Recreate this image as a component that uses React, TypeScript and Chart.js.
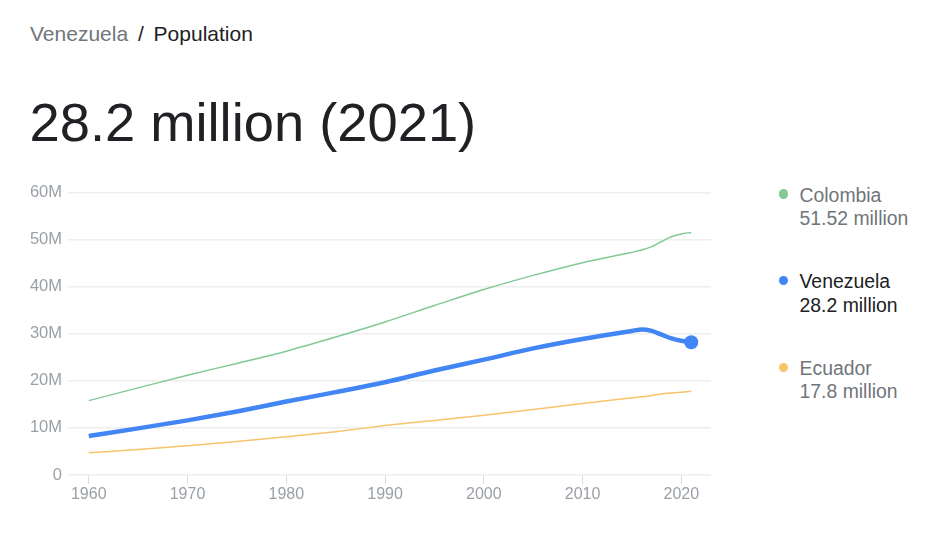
import React, { useEffect, useRef } from "react";
import { Chart, registerables } from "chart.js";

Chart.register(...registerables);

const years = [1960, 1965, 1970, 1975, 1980, 1985, 1990, 1995, 2000, 2005, 2010, 2015, 2016, 2017, 2018, 2019, 2020, 2021];
const venezuela = [8.3, 9.9, 11.6, 13.5, 15.6, 17.6, 19.7, 22.2, 24.5, 26.9, 28.9, 30.6, 30.9, 30.6, 29.8, 29.0, 28.5, 28.2];
const colombia = [15.8, 18.5, 21.2, 23.7, 26.3, 29.3, 32.5, 36.0, 39.4, 42.4, 45.1, 47.3, 47.8, 48.5, 49.6, 50.6, 51.2, 51.52];
const ecuador = [4.7, 5.4, 6.2, 7.1, 8.1, 9.2, 10.5, 11.6, 12.7, 13.9, 15.2, 16.4, 16.6, 16.9, 17.2, 17.4, 17.6, 17.8];
const xTicks = [1960, 1970, 1980, 1990, 2000, 2010, 2020];
const yTicks = [0, 10, 20, 30, 40, 50, 60];

const legendItems = [
  { name: "Colombia", value: "51.52 million", color: "#81c995", text: "#70757a" },
  { name: "Venezuela", value: "28.2 million", color: "#4285f4", text: "#202124" },
  { name: "Ecuador", value: "17.8 million", color: "#f7c46c", text: "#70757a" },
];

const FONT = '"Liberation Sans", Arial, sans-serif';

export default function App() {
  const canvasRef = useRef<HTMLCanvasElement | null>(null);

  useEffect(() => {
    document.body.style.margin = "0";
    const pts = (arr: number[]) => arr.map((v, i) => ({ x: years[i], y: v }));
    const last = years.length - 1;
    const chart = new Chart(canvasRef.current as HTMLCanvasElement, {
      type: "line",
      data: {
        datasets: [
          {
            label: "Venezuela",
            data: pts(venezuela),
            borderColor: "#4285f4",
            backgroundColor: "#4285f4",
            borderWidth: 4.5,
            cubicInterpolationMode: "monotone",
            pointRadius: (c: any) => (c.dataIndex === last ? 7 : 0),
            pointBorderWidth: 0,
            pointBackgroundColor: "#4285f4",
          },
          {
            label: "Colombia",
            data: pts(colombia),
            borderColor: "#81c995",
            borderWidth: 1.5,
            cubicInterpolationMode: "monotone",
            pointRadius: 0,
          },
          {
            label: "Ecuador",
            data: pts(ecuador),
            borderColor: "#f7c46c",
            borderWidth: 1.5,
            cubicInterpolationMode: "monotone",
            pointRadius: 0,
          },
        ],
      },
      options: {
        animation: false,
        responsive: false,
        devicePixelRatio: 1,
        layout: { padding: { top: 22.5, right: 19, left: 0, bottom: 0 } },
        plugins: { legend: { display: false }, tooltip: { enabled: false } },
        scales: {
          x: {
            type: "linear",
            min: 1957.9,
            max: 2023,
            afterBuildTicks: (axis: any) => {
              axis.ticks = xTicks.map((v) => ({ value: v }));
            },
            afterFit: (axis: any) => {
              axis.height = 40;
            },
            border: { display: false },
            grid: {
              drawOnChartArea: false,
              drawTicks: true,
              tickLength: 9,
              color: "#dadce0",
              lineWidth: 1,
            },
            ticks: {
              padding: 1,
              color: "#9aa0a6",
              font: { family: FONT, size: 16 },
              maxRotation: 0,
              autoSkip: false,
              callback: (v: any) => String(v),
            },
          },
          y: {
            min: 0,
            max: 60,
            afterBuildTicks: (axis: any) => {
              axis.ticks = yTicks.map((v) => ({ value: v }));
            },
            afterFit: (axis: any) => {
              axis.width = 68;
            },
            border: { display: false },
            grid: { drawTicks: false, color: "#eeeeee", lineWidth: 1.5 },
            ticks: {
              padding: 6,
              color: "#9aa0a6",
              font: { family: FONT, size: 16.5 },
              callback: (v: any) => (v === 0 ? "0" : v + "M"),
            },
          },
        },
      },
    } as any);
    return () => chart.destroy();
  }, []);

  return (
    <div style={{ position: "absolute", left: 0, top: 0, width: 937, height: 558, background: "#fff", fontFamily: FONT }}>
      <div style={{ position: "absolute", left: 30, top: 23, fontSize: 21, lineHeight: 1, whiteSpace: "nowrap" }}>
        <span style={{ color: "#70757a" }}>Venezuela</span>
        <span style={{ color: "#202124", margin: "0 4px" }}> / </span>
        <span style={{ color: "#202124" }}>Population</span>
      </div>
      <div style={{ position: "absolute", left: 29.5, top: 96, fontSize: 54.3, lineHeight: 1, color: "#202124", whiteSpace: "nowrap" }}>
        28.2 million (2021)
      </div>
      <canvas ref={canvasRef} width={730} height={345} style={{ position: "absolute", left: 0, top: 170, width: 730, height: 345 }} />
      {legendItems.map((it, i) => (
        <div key={it.name} style={{ position: "absolute", left: 778.5, top: 184 + i * 86.7, whiteSpace: "nowrap" }}>
          <div style={{ position: "absolute", left: 0, top: 5.3, width: 9.4, height: 9.4, borderRadius: "50%", background: it.color }} />
          <div style={{ position: "absolute", left: 21, top: -0.3, fontSize: 19.4, lineHeight: "23.3px", color: it.text }}>
            {it.name}
            <br />
            {it.value}
          </div>
        </div>
      ))}
    </div>
  );
}
